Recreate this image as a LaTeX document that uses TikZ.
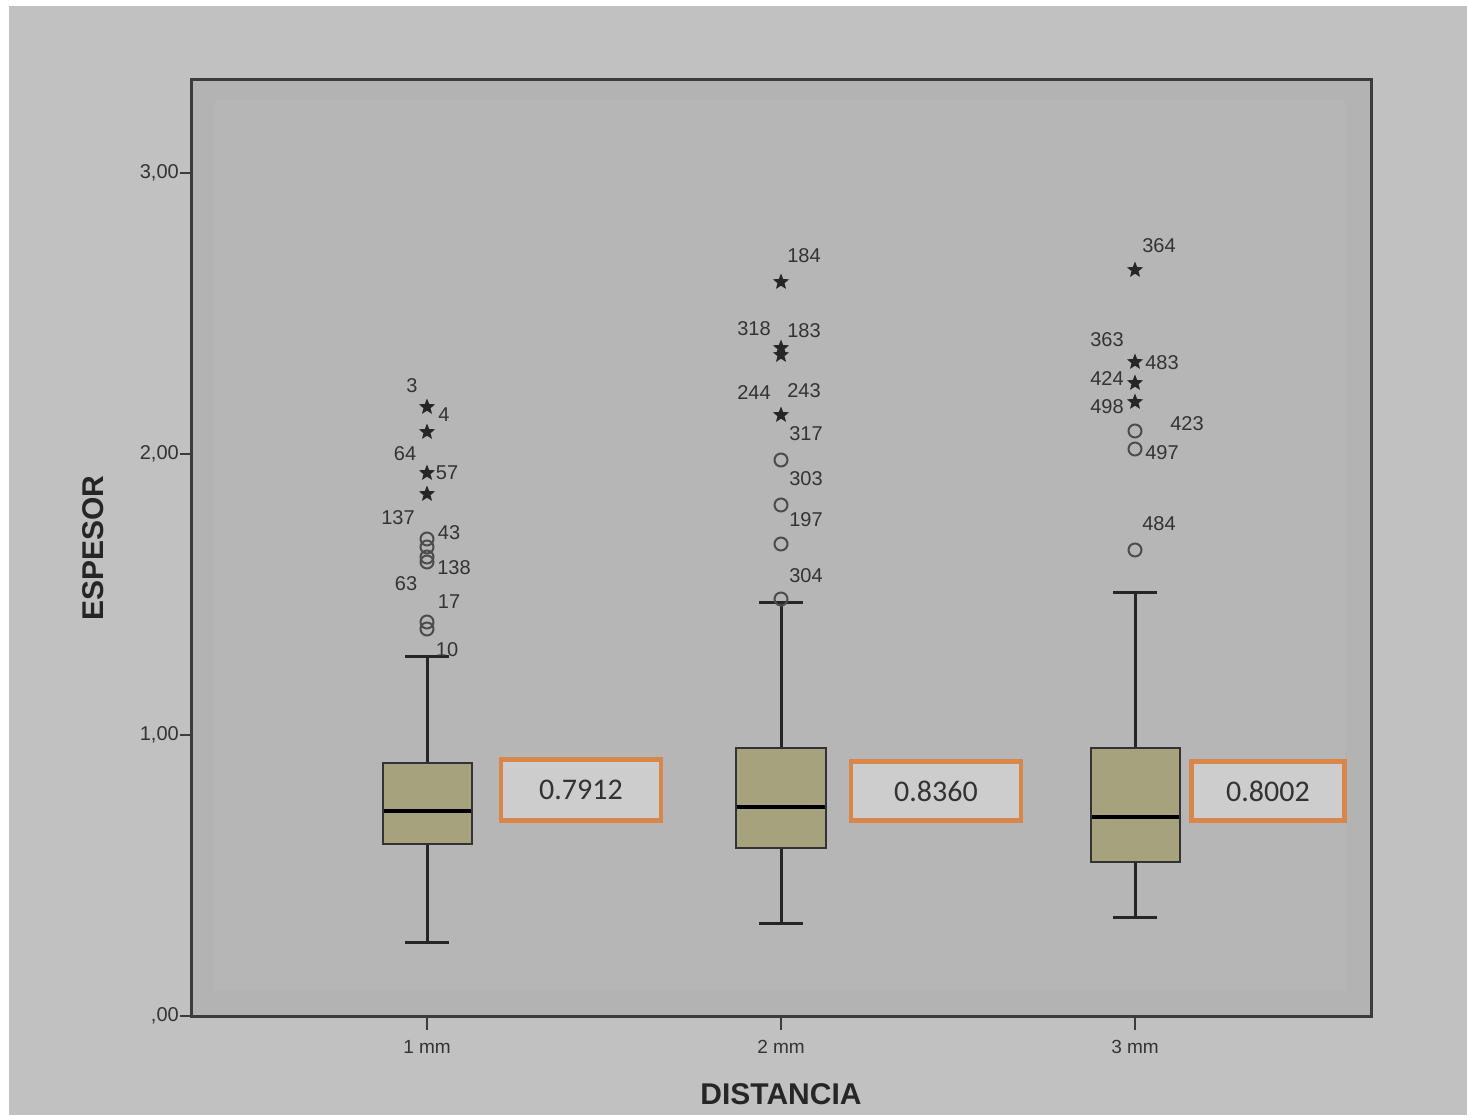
\documentclass[tikz,border=0pt]{standalone}
\usepackage{fontspec}
\setmainfont{Liberation Sans}
\newfontfamily\calibfont{Carlito}
\usetikzlibrary{shapes.geometric}
\definecolor{outerbg}{HTML}{C1C1C1}
\definecolor{plotbg}{HTML}{B3B3B3}
\definecolor{innerbg}{HTML}{B6B6B6}
\definecolor{axiscol}{HTML}{3C3C3C}
\definecolor{boxfill}{HTML}{A6A27E}
\definecolor{valorange}{HTML}{D8864A}
\definecolor{valfill}{HTML}{CDCDCD}
\definecolor{txtcol}{HTML}{333333}
\begin{document}
\begin{tikzpicture}[x=1pt,y=-1pt,
  axis/.style={draw=axiscol, line width=3pt},
  tickln/.style={draw=axiscol, line width=2.5pt},
  ticklbl/.style={text=txtcol, font=\fontsize{20}{20}\selectfont, inner sep=1pt},
  xlbl/.style={text=txtcol, font=\fontsize{19}{19}\selectfont, inner sep=1pt},
  ttl/.style={text=black!85, font=\bfseries\fontsize{30}{30}\selectfont, inner sep=0pt},
  bxp/.style={draw=black!80, line width=2.2pt, fill=boxfill},
  whisk/.style={draw=black!85, line width=3pt},
  medln/.style={draw=black, line width=4pt},
  outstar/.style={star, star points=5, star point ratio=2.3, fill=black!85, draw=none, inner sep=0pt, minimum size=17pt},
  outcirc/.style={circle, draw=black!70, line width=2pt, fill=none, inner sep=0pt, minimum size=13pt},
  olbl/.style={text=txtcol, font=\fontsize{20}{20}\selectfont, inner sep=0pt},
  valbox/.style={draw=valorange, line width=4.5pt, fill=valfill, text=black!80, font=\calibfont\fontsize{30}{30}\selectfont}
]
\useasboundingbox (0,0) rectangle (1467,1115);
\fill[white] (0,0) rectangle (1467,1115);
\fill[outerbg] (9,6) rectangle (1467,1115);
% plot area
\fill[plotbg] (191,80) rectangle (1371,1016);
\fill[innerbg] (215,100) rectangle (1345,990);
\draw[axis] (191,80) rectangle (1371,1016);

% y ticks
\foreach \yy/\lab/\nm in {173/{3,00}/t3, 454/{2,00}/t2, 735/{1,00}/t1, 1016/{,00}/t0}{
  \draw[tickln] (180,\yy) -- (191,\yy);
  \node[ticklbl, anchor=east] (\nm) at (180,\yy) {\lab};
}
% x ticks
\foreach \xx/\lab/\nm in {427/{1 mm}/x1, 781/{2 mm}/x2, 1135/{3 mm}/x3}{
  \draw[tickln] (\xx,1016) -- (\xx,1030);
  \node[xlbl] (\nm) at (\xx,1047) {\lab};
}
% axis titles
\node[ttl, rotate=90] (ytitle) at (93,548) {ESPESOR};
\node[ttl] (xtitle) at (781,1094) {DISTANCIA};

% ---- group 1 ----
\draw[whisk] (427,656) -- (427,763);
\draw[whisk] (427,844) -- (427,942);
\draw[whisk] (405,656) -- (449,656);
\draw[whisk] (405,942) -- (449,942);
\draw[bxp] (383,763) rectangle (472,844);
\draw[medln] (384,811) -- (471,811);

\node[outstar] (s1a) at (427,407) {};
\node[outstar] (s1b) at (427,432) {};
\node[outstar] (s1c) at (427,473) {};
\node[outstar] (s1d) at (427,494) {};
\node[outcirc] (c1a) at (427,539) {};
\node[outcirc] (c1b) at (427,547) {};
\node[outcirc] (c1c) at (427,557) {};
\node[outcirc] (c1d) at (427,562) {};
\node[outcirc] (c1e) at (427,622) {};
\node[outcirc] (c1f) at (427,629) {};
\node[olbl] (l3) at (412,386) {3};
\node[olbl] (l4) at (444,415) {4};
\node[olbl] (l64) at (405,454) {64};
\node[olbl] (l57) at (447,473) {57};
\node[olbl] (l137) at (398,518) {137};
\node[olbl] (l43) at (449,533) {43};
\node[olbl] (l138) at (454,568) {138};
\node[olbl] (l63) at (406,584) {63};
\node[olbl] (l17) at (449,602) {17};
\node[olbl] (l10) at (447,650) {10};

\node[valbox, minimum width=160pt, minimum height=61pt, inner sep=0pt] (v1) at (581,790) {0.7912};

% ---- group 2 ----
\draw[whisk] (781,602) -- (781,748);
\draw[whisk] (781,848) -- (781,923);
\draw[whisk] (759,602) -- (803,602);
\draw[whisk] (759,923) -- (803,923);
\draw[bxp] (736,748) rectangle (826,848);
\draw[medln] (737,807) -- (825,807);

\node[outstar] (s2a) at (781,282) {};
\node[outstar] (s2b) at (781,348) {};
\node[outstar] (s2c) at (781,355) {};
\node[outstar] (s2d) at (781,415) {};
\node[outcirc] (c2a) at (781,460) {};
\node[outcirc] (c2b) at (781,505) {};
\node[outcirc] (c2c) at (781,544) {};
\node[outcirc] (c2d) at (781,599) {};
\node[olbl] (l184) at (804,256) {184};
\node[olbl] (l318) at (754,329) {318};
\node[olbl] (l183) at (804,331) {183};
\node[olbl] (l244) at (754,393) {244};
\node[olbl] (l243) at (804,391) {243};
\node[olbl] (l317) at (806,434) {317};
\node[olbl] (l303) at (806,479) {303};
\node[olbl] (l197) at (806,520) {197};
\node[olbl] (l304) at (806,576) {304};

\node[valbox, minimum width=170pt, minimum height=59pt, inner sep=0pt] (v2) at (936,791) {0.8360};

% ---- group 3 ----
\draw[whisk] (1135,592) -- (1135,748);
\draw[whisk] (1135,862) -- (1135,917);
\draw[whisk] (1113,592) -- (1157,592);
\draw[whisk] (1113,917) -- (1157,917);
\draw[bxp] (1091,748) rectangle (1180,862);
\draw[medln] (1092,817) -- (1179,817);

\node[outstar] (s3a) at (1135,270) {};
\node[outstar] (s3b) at (1135,362) {};
\node[outstar] (s3c) at (1135,383) {};
\node[outstar] (s3d) at (1135,402) {};
\node[outcirc] (c3a) at (1135,431) {};
\node[outcirc] (c3b) at (1135,449) {};
\node[outcirc] (c3c) at (1135,550) {};
\node[olbl] (l364) at (1159,246) {364};
\node[olbl] (l363) at (1107,340) {363};
\node[olbl] (l483) at (1162,363) {483};
\node[olbl] (l424) at (1107,379) {424};
\node[olbl] (l498) at (1107,407) {498};
\node[olbl] (l423) at (1187,424) {423};
\node[olbl] (l497) at (1162,453) {497};
\node[olbl] (l484) at (1159,524) {484};

\node[valbox, minimum width=153pt, minimum height=59pt, inner sep=0pt] (v3) at (1268,791) {0.8002};
\end{tikzpicture}
\end{document}
